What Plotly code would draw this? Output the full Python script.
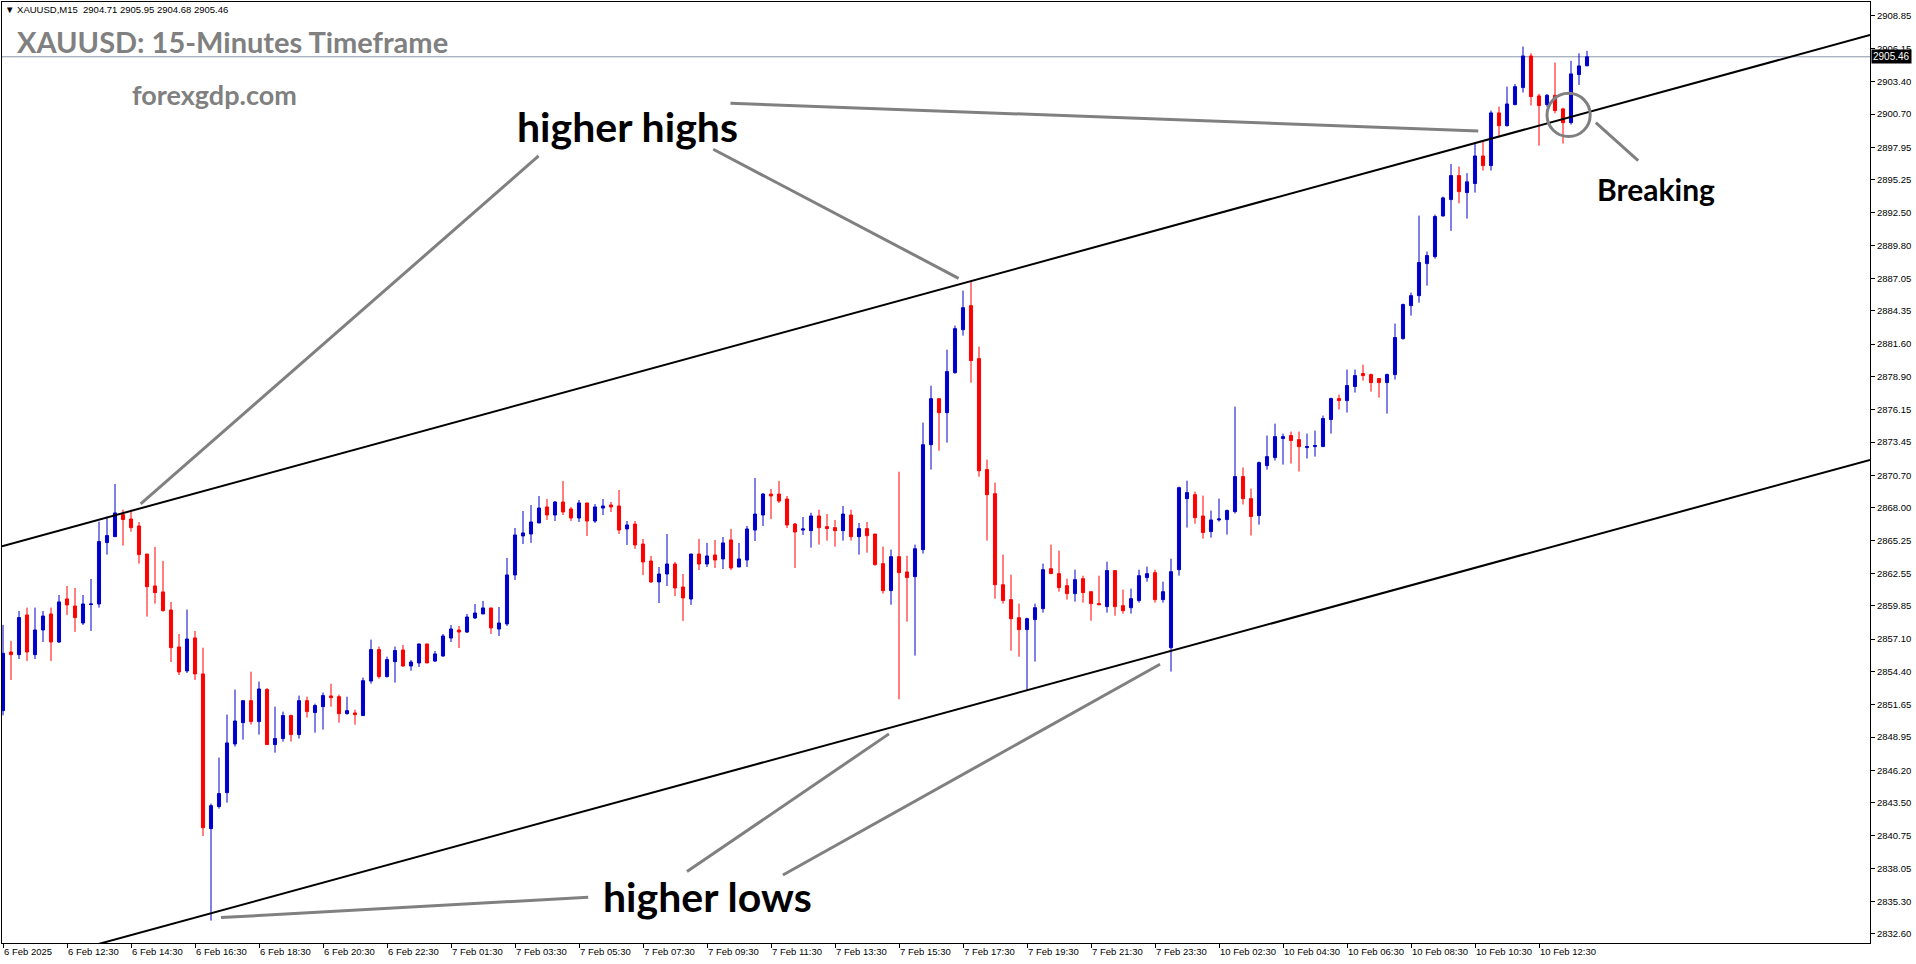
import plotly.graph_objects as go

# ---------------- data (XAUUSD M15) ----------------
opens = [2851.15, 2856.02, 2855.80, 2859.10, 2855.80, 2857.85, 2859.18, 2856.85, 2860.43, 2859.84,
         2858.43, 2859.96, 2860.01, 2865.11, 2865.60, 2867.43, 2867.07, 2866.49, 2864.16, 2861.51,
         2861.01, 2859.51, 2856.44, 2854.45, 2857.19, 2854.20, 2841.35, 2843.18, 2844.34, 2848.38,
         2850.15, 2851.98, 2850.24, 2852.90, 2848.33, 2848.83, 2850.74, 2849.16, 2851.98, 2850.99,
         2851.48, 2852.37, 2852.31, 2850.90, 2850.96, 2850.74, 2853.61, 2856.22, 2853.98, 2855.22,
         2856.19, 2854.86, 2855.11, 2856.69, 2855.27, 2855.69, 2857.18, 2857.85, 2857.68, 2858.85,
         2859.18, 2859.68, 2857.93, 2858.35, 2862.42, 2865.66, 2865.82, 2866.74, 2868.07, 2867.40,
         2868.48, 2867.90, 2867.15, 2868.40, 2866.90, 2867.98, 2868.23, 2868.15, 2866.24, 2866.65,
         2864.99, 2863.58, 2861.84, 2862.50, 2863.33, 2861.42, 2860.42, 2864.16, 2863.33, 2864.08,
         2863.75, 2865.33, 2863.08, 2863.66, 2866.15, 2867.40, 2869.14, 2869.14, 2868.73, 2866.65,
         2866.15, 2866.10, 2867.32, 2866.43, 2866.35, 2866.10, 2867.40, 2865.60, 2866.27, 2865.82,
         2863.36, 2861.12, 2863.94, 2862.67, 2862.28, 2864.52, 2873.24, 2877.06, 2875.90, 2879.22,
         2882.79, 2884.79, 2880.39, 2871.17, 2869.17, 2861.61, 2860.37, 2858.87, 2857.88, 2858.71,
         2859.62, 2862.94, 2862.53, 2861.53, 2860.87, 2862.11, 2861.03, 2860.04, 2859.79, 2862.78,
         2859.87, 2859.70, 2860.29, 2862.20, 2862.61, 2860.37, 2856.38, 2862.86, 2868.76, 2869.09,
         2867.32, 2866.02, 2866.99, 2867.02, 2867.68, 2870.59, 2868.76, 2867.35, 2871.50, 2872.17,
         2873.75, 2874.00, 2873.66, 2873.00, 2873.08, 2873.08, 2875.33, 2877.07, 2876.90, 2878.07,
         2879.15, 2879.06, 2878.73, 2878.40, 2879.06, 2882.05, 2884.79, 2885.62, 2888.28, 2888.86,
         2892.24, 2893.60, 2895.59, 2894.18, 2894.93, 2897.22, 2896.42, 2900.80, 2899.74, 2901.49,
         2902.90, 2905.53, 2902.21, 2901.49, 2902.26, 2901.13, 2899.99, 2903.98, 2904.71]
highs = [2858.27, 2856.94, 2859.43, 2859.71, 2859.71, 2859.43, 2859.71, 2860.76, 2861.51, 2861.34,
         2860.76, 2862.09, 2866.85, 2867.26, 2869.98, 2867.85, 2867.85, 2866.82, 2864.16, 2864.75,
         2863.58, 2860.18, 2857.52, 2859.54, 2857.77, 2856.38, 2843.43, 2847.25, 2850.82, 2852.90,
         2851.98, 2854.39, 2853.56, 2853.03, 2851.48, 2851.07, 2850.82, 2852.40, 2852.31, 2851.73,
         2852.65, 2853.39, 2852.48, 2852.31, 2851.23, 2853.89, 2857.05, 2856.47, 2855.64, 2856.47,
         2856.60, 2855.36, 2856.69, 2856.69, 2856.11, 2857.52, 2858.26, 2858.18, 2859.18, 2860.01,
         2860.26, 2859.68, 2859.76, 2863.83, 2866.32, 2867.73, 2868.23, 2868.98, 2868.73, 2868.56,
         2870.22, 2868.07, 2868.65, 2868.40, 2868.31, 2868.73, 2868.48, 2869.48, 2866.90, 2866.90,
         2865.41, 2864.00, 2863.08, 2865.82, 2863.50, 2862.50, 2864.16, 2865.41, 2865.08, 2865.33,
         2865.57, 2866.24, 2865.08, 2866.49, 2870.47, 2869.23, 2869.56, 2870.22, 2868.98, 2866.74,
         2867.23, 2867.59, 2867.84, 2867.48, 2866.99, 2868.15, 2867.84, 2866.74, 2866.82, 2865.82,
         2864.77, 2864.52, 2871.00, 2864.02, 2864.94, 2875.07, 2878.14, 2877.06, 2881.13, 2883.13,
         2886.03, 2886.86, 2881.38, 2872.00, 2870.09, 2864.11, 2862.44, 2860.04, 2858.87, 2860.04,
         2863.36, 2864.94, 2864.44, 2862.11, 2862.86, 2862.36, 2861.03, 2862.36, 2863.52, 2862.78,
         2861.20, 2861.28, 2862.86, 2863.11, 2862.86, 2861.86, 2863.77, 2869.75, 2870.25, 2869.34,
         2869.01, 2867.77, 2868.76, 2867.85, 2876.40, 2871.34, 2869.59, 2871.84, 2874.00, 2874.99,
         2874.16, 2874.33, 2874.33, 2874.16, 2874.41, 2875.66, 2877.15, 2877.40, 2879.48, 2879.48,
         2879.89, 2879.15, 2878.73, 2879.15, 2883.30, 2884.96, 2885.87, 2892.27, 2889.28, 2892.35,
         2893.85, 2896.56, 2896.34, 2895.79, 2898.22, 2898.42, 2900.99, 2901.32, 2902.98, 2903.20,
         2906.31, 2905.75, 2902.37, 2902.37, 2904.98, 2901.24, 2905.12, 2905.75, 2905.95]
lows = [2850.76, 2853.70, 2855.44, 2855.28, 2855.44, 2856.85, 2855.28, 2856.77, 2859.10, 2857.69,
        2858.27, 2857.77, 2859.71, 2864.11, 2865.60, 2864.86, 2866.02, 2863.36, 2858.96, 2860.04,
        2859.37, 2855.19, 2854.11, 2854.28, 2853.70, 2840.74, 2833.71, 2843.01, 2843.51, 2848.16,
        2848.74, 2849.99, 2849.16, 2848.33, 2847.66, 2848.58, 2848.58, 2848.83, 2850.57, 2849.32,
        2849.57, 2851.48, 2850.15, 2850.82, 2849.99, 2850.74, 2853.39, 2853.81, 2853.89, 2853.48,
        2854.78, 2854.47, 2854.78, 2855.11, 2855.19, 2855.61, 2856.85, 2856.35, 2857.60, 2858.76,
        2859.18, 2857.52, 2857.35, 2858.18, 2862.00, 2864.99, 2865.08, 2866.74, 2866.99, 2866.90,
        2867.40, 2866.90, 2866.82, 2865.66, 2866.74, 2867.40, 2867.65, 2865.82, 2864.91, 2864.58,
        2862.42, 2861.75, 2860.09, 2861.50, 2860.67, 2858.60, 2859.93, 2862.83, 2863.08, 2863.00,
        2862.91, 2862.83, 2863.08, 2863.08, 2865.24, 2866.49, 2867.07, 2868.40, 2866.32, 2863.00,
        2865.74, 2864.69, 2864.94, 2865.27, 2864.77, 2865.27, 2865.27, 2864.11, 2864.27, 2863.19,
        2860.87, 2859.95, 2852.09, 2858.54, 2855.72, 2864.19, 2871.17, 2872.74, 2873.41, 2879.14,
        2882.30, 2878.39, 2870.58, 2865.27, 2860.45, 2860.04, 2856.13, 2855.63, 2852.89, 2855.22,
        2859.29, 2862.53, 2861.03, 2860.37, 2860.20, 2860.12, 2858.62, 2859.95, 2859.29, 2859.04,
        2859.21, 2859.21, 2860.12, 2861.86, 2860.12, 2860.12, 2854.39, 2862.36, 2866.35, 2866.68,
        2865.44, 2865.52, 2866.85, 2865.77, 2867.52, 2868.27, 2865.69, 2866.60, 2871.17, 2871.92,
        2871.59, 2871.67, 2871.01, 2872.09, 2872.25, 2873.08, 2874.16, 2876.16, 2875.91, 2877.57,
        2878.56, 2877.65, 2877.15, 2875.82, 2878.65, 2881.97, 2883.96, 2885.04, 2886.45, 2888.70,
        2892.19, 2891.00, 2893.29, 2892.02, 2894.18, 2896.01, 2896.01, 2898.91, 2899.66, 2901.43,
        2902.49, 2901.41, 2898.08, 2901.32, 2900.77, 2898.25, 2899.83, 2903.12, 2904.68]
closes = [2855.91, 2855.80, 2858.88, 2856.02, 2857.85, 2859.01, 2856.85, 2860.18, 2859.93, 2858.88,
          2860.01, 2860.01, 2865.19, 2865.69, 2867.57, 2867.02, 2866.35, 2864.11, 2861.45, 2860.95,
          2859.46, 2856.38, 2854.36, 2857.10, 2854.20, 2841.43, 2843.26, 2844.26, 2848.47, 2850.29,
          2851.98, 2850.24, 2852.95, 2848.33, 2848.83, 2850.74, 2849.16, 2851.98, 2851.07, 2851.57,
          2852.40, 2852.23, 2850.90, 2851.15, 2850.82, 2853.64, 2856.22, 2853.98, 2855.39, 2856.14,
          2854.86, 2855.19, 2856.69, 2855.11, 2855.86, 2857.35, 2857.93, 2857.68, 2858.93, 2859.26,
          2859.68, 2858.02, 2858.43, 2862.42, 2865.74, 2865.91, 2866.82, 2867.98, 2867.40, 2868.48,
          2867.65, 2867.15, 2868.40, 2866.90, 2868.07, 2868.15, 2868.07, 2866.15, 2866.57, 2864.91,
          2863.50, 2861.84, 2862.50, 2863.33, 2861.34, 2860.51, 2864.16, 2863.33, 2864.00, 2863.66,
          2865.08, 2863.00, 2863.75, 2866.24, 2867.48, 2869.14, 2868.98, 2868.56, 2866.57, 2865.99,
          2866.24, 2867.32, 2866.35, 2866.27, 2866.10, 2867.48, 2865.60, 2866.27, 2865.68, 2863.28,
          2861.12, 2863.94, 2862.61, 2862.20, 2864.60, 2873.24, 2877.06, 2875.90, 2879.31, 2882.88,
          2884.62, 2880.22, 2871.08, 2869.09, 2861.61, 2860.29, 2858.79, 2857.88, 2858.79, 2859.70,
          2862.86, 2862.53, 2861.37, 2860.87, 2862.03, 2860.95, 2860.04, 2859.95, 2862.78, 2859.79,
          2859.45, 2860.45, 2862.36, 2862.53, 2860.37, 2861.03, 2862.69, 2869.67, 2869.26, 2867.18,
          2865.94, 2866.99, 2867.07, 2867.77, 2870.59, 2868.76, 2867.27, 2871.75, 2872.25, 2873.91,
          2873.91, 2873.58, 2873.08, 2873.08, 2873.17, 2875.41, 2877.07, 2876.90, 2878.15, 2878.98,
          2878.98, 2878.40, 2878.40, 2879.06, 2882.14, 2884.88, 2885.62, 2888.37, 2888.95, 2892.19,
          2893.74, 2895.59, 2894.26, 2895.07, 2897.22, 2896.42, 2900.80, 2899.74, 2901.54, 2902.98,
          2905.53, 2902.15, 2901.41, 2902.26, 2900.99, 2899.99, 2904.04, 2904.70, 2905.46]

bar_index = list(range(len(opens)))

time_tick_index = list(range(0, 193, 8))
time_tick_labels = ["6 Feb 2025", "6 Feb 12:30", "6 Feb 14:30", "6 Feb 16:30", "6 Feb 18:30",
                    "6 Feb 20:30", "6 Feb 22:30", "7 Feb 01:30", "7 Feb 03:30", "7 Feb 05:30",
                    "7 Feb 07:30", "7 Feb 09:30", "7 Feb 11:30", "7 Feb 13:30", "7 Feb 15:30",
                    "7 Feb 17:30", "7 Feb 19:30", "7 Feb 21:30", "7 Feb 23:30", "10 Feb 02:30",
                    "10 Feb 04:30", "10 Feb 06:30", "10 Feb 08:30", "10 Feb 10:30", "10 Feb 12:30"]

price_ticks = [2908.85, 2906.15, 2903.40, 2900.70, 2897.95, 2895.25, 2892.50, 2889.80, 2887.05,
               2884.35, 2881.60, 2878.90, 2876.15, 2873.45, 2870.70, 2868.00, 2865.25, 2862.55,
               2859.85, 2857.10, 2854.40, 2851.65, 2848.95, 2846.20, 2843.50, 2840.75, 2838.05,
               2835.30, 2832.60]

# channel trendlines: (bar index, price) at both ends
upper_channel_bars = [0, 233]
upper_channel_prices = [2864.83, 2907.20]
lower_channel_bars = [0, 233]
lower_channel_prices = [2829.60, 2871.91]

# grey pointer lines: (bar0, price0, bar1, price1)
pointer_lines = [
    (66.95, 2897.22, 17.21, 2868.32),
    (88.78, 2897.78, 119.45, 2887.06),
    (90.93, 2901.60, 184.41, 2899.30),
    (199.1, 2899.99, 204.4, 2896.83),
    (27.25, 2833.96, 73.15, 2835.65),
    (85.5, 2837.78, 110.75, 2849.22),
    (97.49, 2837.50, 144.63, 2855.00),
]
break_circle = (193.0, 2898.83, 198.4, 2902.43)

labels_text = ["higher highs", "higher lows", "Breaking"]
labels_bar = [78.06, 88.0, 206.6]
labels_price = [2899.66, 2835.68, 2894.48]

X_RANGE = [-0.125, 233.375]
Y_RANGE = [2831.85, 2910.01]

BLUE = "#0000CC"
RED = "#FF0000"
GREY = "#808080"

fig = go.Figure()
fig.add_trace(go.Candlestick(
    x=bar_index, open=opens, high=highs, low=lows, close=closes,
    increasing=dict(line=dict(color=BLUE, width=1), fillcolor=BLUE),
    decreasing=dict(line=dict(color=RED, width=1), fillcolor=RED),
    whiskerwidth=0, hoverinfo="skip", showlegend=False,
))

shapes = []
# last price line
shapes.append(dict(type="line", xref="paper", yref="y", x0=0, x1=1,
                   y0=closes[-1], y1=closes[-1], line=dict(color="#8A98A8", width=1), layer="below"))
for bx, py in ((upper_channel_bars, upper_channel_prices), (lower_channel_bars, lower_channel_prices)):
    slope = (py[1] - py[0]) / (bx[1] - bx[0])
    xa, xb = X_RANGE
    shapes.append(dict(type="line", xref="x", yref="y",
                       x0=xa, y0=py[0] + slope * (xa - bx[0]),
                       x1=xb, y1=py[0] + slope * (xb - bx[0]),
                       line=dict(color="black", width=2)))
for (a, b, c, d) in pointer_lines:
    shapes.append(dict(type="line", xref="x", yref="y", x0=a, y0=b, x1=c, y1=d,
                       line=dict(color=GREY, width=3)))
shapes.append(dict(type="circle", xref="x", yref="y",
                   x0=break_circle[0], y0=break_circle[1], x1=break_circle[2], y1=break_circle[3],
                   line=dict(color=GREY, width=3)))

annotations = []
for t, bx, py, fs in zip(labels_text, labels_bar, labels_price, [41, 41, 30]):
    annotations.append(dict(text="<b>%s</b>" % t, x=bx, y=py, xref="x", yref="y",
                            showarrow=False, xanchor="center", yanchor="middle",
                            font=dict(family="Lato", size=fs, color="black")))
annotations.append(dict(text="<b>XAUUSD: 15-Minutes Timeframe</b>", x=0.007, y=0.9585,
                        xref="paper", yref="paper", showarrow=False, xanchor="left", yanchor="middle",
                        font=dict(family="Lato", size=29, color=GREY)))
annotations.append(dict(text="<b>forexgdp.com</b>", x=0.0685, y=0.9012,
                        xref="paper", yref="paper", showarrow=False, xanchor="left", yanchor="middle",
                        font=dict(family="Lato", size=27, color=GREY)))
header = "▼ XAUUSD,M15  %.2f %.2f %.2f %.2f" % (opens[-1], highs[-1], lows[-1], closes[-1])
annotations.append(dict(text=header, x=0.0003, y=0.9915, xref="paper", yref="paper",
                        showarrow=False, xanchor="left", yanchor="middle",
                        font=dict(family="Liberation Sans", size=9.5, color="black")))
annotations.append(dict(text="%.2f" % closes[-1], x=1, y=closes[-1], xref="paper", yref="y",
                        showarrow=False, xanchor="left", yanchor="middle", xshift=1,
                        bgcolor="black", borderpad=1,
                        font=dict(family="Liberation Sans", size=10, color="white")))

fig.update_layout(
    width=1916, height=964,
    margin=dict(l=2, r=46, t=2, b=21, pad=0, autoexpand=False),
    paper_bgcolor="white", plot_bgcolor="white",
    boxgap=0.45,
    shapes=shapes, annotations=annotations,
    showlegend=False,
    xaxis=dict(range=X_RANGE, rangeslider=dict(visible=False), showgrid=False, zeroline=False,
               tickmode="array", tickvals=time_tick_index, ticktext=time_tick_labels,
               ticks="outside", ticklen=4, tickcolor="black", ticklabelposition="outside right",
               tickangle=0, automargin=False,
               showline=True, linecolor="black", linewidth=1, mirror=True,
               tickfont=dict(family="Liberation Sans", size=9.5, color="black")),
    yaxis=dict(range=Y_RANGE, side="right", showgrid=False, zeroline=False,
               tickmode="array", tickvals=price_ticks, ticktext=["%.2f" % v for v in price_ticks],
               ticks="outside", ticklen=4, tickcolor="black", automargin=False,
               showline=True, linecolor="black", linewidth=1, mirror=True,
               tickfont=dict(family="Liberation Sans", size=9.5, color="black")),
)

fig.write_html("out.html", config={"displayModeBar": False},
               post_script="document.body.style.margin='0';document.body.style.overflow='hidden';")
